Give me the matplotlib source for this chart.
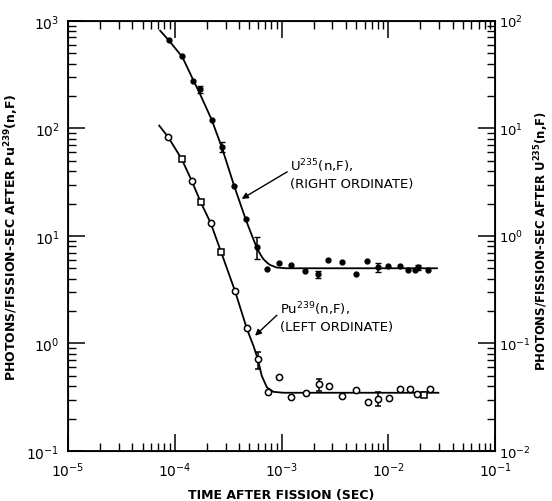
import matplotlib.pyplot as plt

# U235(n,F) -- right ordinate (photons/fission-sec)
u_t = [8.9e-5, 1.18e-4, 1.47e-4, 2.22e-4, 3.61e-4, 4.65e-4, 7.24e-4, 9.57e-4,
       1.23e-3, 1.66e-3, 2.74e-3, 3.66e-3, 4.99e-3, 6.32e-3, 1.0e-2, 1.29e-2,
       1.54e-2, 1.78e-2, 2.37e-2]
u_y = [65.6, 47.5, 27.5, 11.9, 2.94, 1.43, 0.488, 0.561,
       0.534, 0.471, 0.592, 0.570, 0.440, 0.582, 0.529, 0.520,
       0.486, 0.486, 0.486]
# points with error bars: time, value, low, high
u_err_t = [1.72e-4, 2.77e-4, 5.86e-4, 2.21e-3, 8.02e-3, 1.91e-2]
u_err_y = [23.3, 6.66, 0.785, 0.44, 0.509, 0.509]
u_err_lo = [21.4, 6.01, 0.61, 0.41, 0.465, 0.48]
u_err_hi = [25.0, 7.44, 0.98, 0.47, 0.561, 0.537]
# drawn curve
u_curve_t = [7.3e-5, 8.9e-5, 1.18e-4, 1.47e-4, 1.72e-4, 2.22e-4, 2.77e-4, 3.61e-4,
             4.65e-4, 5.3e-4, 5.86e-4, 6.3e-4, 6.75e-4, 7.3e-4, 7.8e-4, 9.0e-4,
             1.1e-3, 2.85e-2]
u_curve_y = [81, 65, 46, 29, 21, 12, 6.6, 2.9,
             1.4, 1.0, 0.78, 0.68, 0.61, 0.565, 0.537, 0.508,
             0.50, 0.50]

# Pu239(n,F) -- left ordinate
pu_circ_t = [8.7e-5, 1.44e-4, 2.17e-4, 3.67e-4, 4.72e-4, 7.42e-4, 9.53e-4,
             1.22e-3, 1.70e-3, 2.81e-3, 3.69e-3, 5.02e-3, 6.50e-3, 1.02e-2,
             1.29e-2, 1.60e-2, 1.85e-2, 2.46e-2]
pu_circ_y = [82.8, 32.7, 13.2, 3.07, 1.385, 0.356, 0.485,
             0.316, 0.344, 0.405, 0.327, 0.367, 0.287, 0.313,
             0.377, 0.377, 0.339, 0.377]
pu_sq_t = [1.16e-4, 1.75e-4, 2.71e-4]
pu_sq_y = [52.0, 20.6, 7.14]
pu_err_t = [5.98e-4, 2.24e-3, 8.07e-3, 2.16e-2]
pu_err_y = [0.718, 0.42, 0.305, 0.332]
pu_err_lo = [0.579, 0.364, 0.263, 0.316]
pu_err_hi = [0.839, 0.468, 0.356, 0.356]
pu_err_sq = [False, False, False, True]
pu_curve_t = [7.16e-5, 8.7e-5, 1.16e-4, 1.44e-4, 1.75e-4, 2.17e-4, 2.71e-4,
              3.67e-4, 4.72e-4, 5.5e-4, 5.98e-4, 6.53e-4, 7.3e-4, 8.4e-4,
              1.04e-3, 2.94e-2]
pu_curve_y = [106, 82.8, 52.0, 32.7, 20.6, 13.2, 7.14,
              3.07, 1.385, 0.93, 0.72, 0.50, 0.39, 0.355,
              0.348, 0.348]

plt.rcParams['font.family'] = ['DejaVu Sans']

fig = plt.figure(figsize=(5.52, 5.02), dpi=100)
ax = fig.add_axes([0.123, 0.0996, 0.774, 0.857])
ax2 = ax.twinx()

# Pu239 on the left axis
ax.plot(pu_curve_t, pu_curve_y, color='black', lw=1.3)
ax.plot(pu_circ_t, pu_circ_y, 'o', mfc='white', mec='black', ms=4.5, mew=1.1)
ax.plot(pu_sq_t, pu_sq_y, 's', mfc='white', mec='black', ms=4.5, mew=1.1)
for t, y, lo, hi, sq in zip(pu_err_t, pu_err_y, pu_err_lo, pu_err_hi, pu_err_sq):
    ax.errorbar([t], [y], yerr=[[y - lo], [hi - y]], fmt='s' if sq else 'o',
                mfc='white', mec='black', ecolor='black', ms=4.5, mew=1.1,
                elinewidth=1.1, capsize=2.5)

# U235 on the right axis
ax2.plot(u_curve_t, u_curve_y, color='black', lw=1.3)
ax2.plot(u_t, u_y, 'o', color='black', ms=3.5)
ax2.errorbar(u_err_t, u_err_y,
             yerr=[[y - lo for y, lo in zip(u_err_y, u_err_lo)],
                   [hi - y for y, hi in zip(u_err_y, u_err_hi)]],
             fmt='o', color='black', ms=3.5, elinewidth=1.1, capsize=2.5)

ax.set_xscale('log')
ax.set_yscale('log')
ax2.set_yscale('log')
ax.set_xlim(1e-5, 1e-1)
ax.set_ylim(1e-1, 1e3)
ax2.set_ylim(1e-2, 1e2)

ax.tick_params(axis='x', which='both', direction='in', top=True, labelsize=10, pad=7)
ax.tick_params(axis='y', which='both', direction='in', right=False, labelsize=10, pad=6)
ax2.tick_params(axis='y', which='both', direction='in', labelsize=9.5, pad=3)
for a in (ax, ax2):
    a.tick_params(which='major', length=12, width=1.1)
    a.tick_params(which='minor', length=6, width=1.0)
for s in ax.spines.values():
    s.set_linewidth(1.3)

ax.set_xlabel('TIME AFTER FISSION (SEC)', fontsize=9, fontweight='bold', labelpad=6)
ax.set_ylabel('PHOTONS/FISSION-SEC AFTER Pu$^{\\mathbf{239}}$(n,F)', fontsize=9,
              fontweight='bold', labelpad=4)
fig.text(0.981, 0.52, 'PHOTONS/FISSION-SEC AFTER U$^{\\mathbf{235}}$(n,F)',
         rotation=90, ha='center', va='center', fontsize=8.4, fontweight='bold')

ax2.annotate('U$^{235}$(n,F),\n(RIGHT ORDINATE)', xy=(4.24e-4, 2.21),
             xytext=(1.2e-3, 3.8), textcoords='data', fontsize=9.5,
             va='center', ha='left', linespacing=1.3,
             arrowprops=dict(arrowstyle='-|>', color='black', lw=1.0,
                             shrinkA=0, shrinkB=0, mutation_scale=9,
                             relpos=(0, 0.6)))
ax.annotate('Pu$^{239}$(n,F),\n(LEFT ORDINATE)', xy=(5.65e-4, 1.18),
            xytext=(9.6e-4, 1.8), textcoords='data', fontsize=9.5,
            va='center', ha='left', linespacing=1.3,
            arrowprops=dict(arrowstyle='-|>', color='black', lw=1.0,
                            shrinkA=0, shrinkB=0, mutation_scale=9,
                            relpos=(0, 0.6)))

fig.savefig('out.png', dpi=100)
